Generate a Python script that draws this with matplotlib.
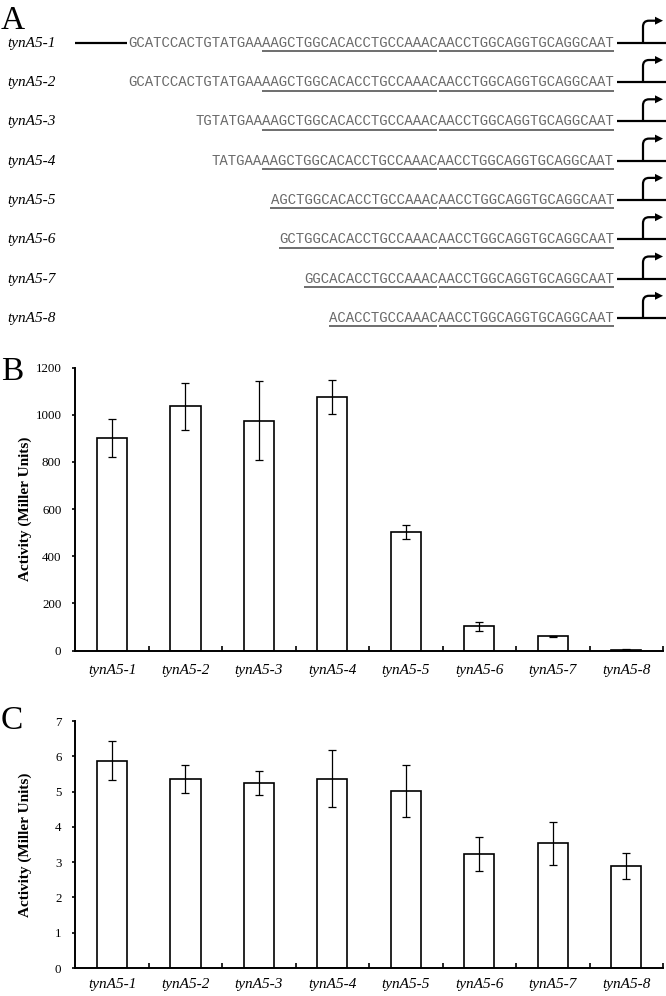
import matplotlib
matplotlib.use("Agg")
import matplotlib.pyplot as plt
from matplotlib.path import Path
from matplotlib.patches import PathPatch
import numpy as np

# ---------------- data ----------------
constructs = ["tynA5-1", "tynA5-2", "tynA5-3", "tynA5-4",
              "tynA5-5", "tynA5-6", "tynA5-7", "tynA5-8"]
sequences = [
    "GCATCCACTGTATGAAAAGCTGGCACACCTGCCAAACAACCTGGCAGGTGCAGGCAAT",
    "GCATCCACTGTATGAAAAGCTGGCACACCTGCCAAACAACCTGGCAGGTGCAGGCAAT",
    "TGTATGAAAAGCTGGCACACCTGCCAAACAACCTGGCAGGTGCAGGCAAT",
    "TATGAAAAGCTGGCACACCTGCCAAACAACCTGGCAGGTGCAGGCAAT",
    "AGCTGGCACACCTGCCAAACAACCTGGCAGGTGCAGGCAAT",
    "GCTGGCACACCTGCCAAACAACCTGGCAGGTGCAGGCAAT",
    "GGCACACCTGCCAAACAACCTGGCAGGTGCAGGCAAT",
    "ACACCTGCCAAACAACCTGGCAGGTGCAGGCAAT",
]
repeat_len = 21  # length of each underlined repeat

activity_b = [900, 1035, 975, 1075, 503, 102, 60, 4]
error_b = [80, 100, 167, 73, 31, 19, 3, 1]
yticks_b = [0, 200, 400, 600, 800, 1000, 1200]

activity_c = [5.88, 5.36, 5.23, 5.37, 5.01, 3.23, 3.54, 2.90]
error_c = [0.56, 0.40, 0.34, 0.82, 0.73, 0.49, 0.61, 0.37]
yticks_c = [0, 1, 2, 3, 4, 5, 6, 7]

ylabel = "Activity (Miller Units)"

# ---------------- figure ----------------
W, H = 666, 996
fig = plt.figure(figsize=(W / 100, H / 100), dpi=100)
serif = ["Liberation Serif", "DejaVu Serif"]
mono = ["Liberation Mono", "DejaVu Sans Mono"]

# overlay axes in pixel coordinates for panel A and panel letters
ov = fig.add_axes([0, 0, 1, 1], facecolor="none")
ov.set_xlim(0, W)
ov.set_ylim(H, 0)
ov.axis("off")

PX = 72 / 100  # points per pixel
char_w = 8.38
seq_end = 614
row0, row_step = 42.7, 39.3
mono_size = char_w / 0.6 * PX

for i, (name, seq) in enumerate(zip(constructs, sequences)):
    yc = row0 + i * row_step
    ov.text(7, yc + 4.0, name, family=serif, style="italic", fontsize=11,
            ha="left", va="baseline", color="black")
    ov.text(seq_end, yc + 4.0, seq, family=mono, fontsize=mono_size,
            ha="right", va="baseline", color="#6a6a6a")
    n = len(seq)
    mid = seq_end - repeat_len * char_w
    start = seq_end - min(n, 2 * repeat_len) * char_w
    uy = yc + 8.6
    ov.plot([start, mid - 1], [uy, uy], color="#555555", lw=1.2,
            solid_capstyle="butt")
    ov.plot([mid + 1, seq_end], [uy, uy], color="#555555", lw=1.2,
            solid_capstyle="butt")
    if i == 0:
        ov.plot([75, 127], [yc, yc], color="black", lw=1.6, solid_capstyle="butt")
    # promoter arrow
    ov.plot([617, W], [yc, yc], color="black", lw=1.6, solid_capstyle="butt")
    verts = [(643, yc), (643, yc - 16), (643, yc - 22), (649, yc - 22), (656, yc - 22)]
    codes = [Path.MOVETO, Path.LINETO, Path.CURVE3, Path.CURVE3, Path.LINETO]
    ov.add_patch(PathPatch(Path(verts, codes), fill=False, lw=1.6, edgecolor="black",
                           capstyle="butt"))
    ov.fill([655, 663, 655], [yc - 26, yc - 22, yc - 18], color="black", lw=0)

# panel letters
ov.text(1, 28.5, "A", family=serif, fontsize=24, ha="left", va="baseline")
ov.text(1, 380, "B", family=serif, fontsize=24, ha="left", va="baseline")
ov.text(1, 729, "C", family=serif, fontsize=24, ha="left", va="baseline")


def bar_panel(top_px, bottom_px, values, errors, yticks, label_pad):
    left_px, right_px = 75.3, 663
    ax = fig.add_axes([left_px / W, 1 - bottom_px / H,
                       (right_px - left_px) / W, (bottom_px - top_px) / H])
    x = np.arange(len(constructs))
    ax.bar(x, values, width=0.41, color="white", edgecolor="black", linewidth=1.2,
           zorder=2)
    ax.errorbar(x, values, yerr=errors, fmt="none", ecolor="black", elinewidth=0.9,
                capsize=2.8, capthick=0.9, zorder=3)
    ax.set_xlim(-0.5, len(constructs) - 0.5)
    ax.set_ylim(yticks[0], yticks[-1])
    ax.set_yticks(yticks)
    ax.set_yticklabels([str(t) for t in yticks], family=serif, fontsize=9.3)
    ax.set_xticks(x)
    ax.set_xticklabels(constructs, family=serif, style="italic", fontsize=11)
    ax.set_xticks(np.arange(len(constructs)) + 0.5, minor=True)
    ax.tick_params(axis="x", which="major", length=0, pad=label_pad)
    ax.tick_params(axis="x", which="minor", direction="in", length=3.5, width=1.2)
    ax.tick_params(axis="y", direction="out", length=2.5, width=1.2, pad=7.5)
    for s in ("top", "right"):
        ax.spines[s].set_visible(False)
    for s in ("left", "bottom"):
        ax.spines[s].set_linewidth(1.4)
    ax.set_ylabel(ylabel, family=serif, fontweight="bold", fontsize=11)
    ax.yaxis.set_label_coords((32 - left_px) / (right_px - left_px), 0.5)
    ax.patch.set_visible(False)
    return ax


bar_panel(367.5, 650.5, activity_b, error_b, yticks_b, 10.0)
bar_panel(721, 968, activity_c, error_c, yticks_c, 7.0)

fig.savefig("out.png", dpi=100)
